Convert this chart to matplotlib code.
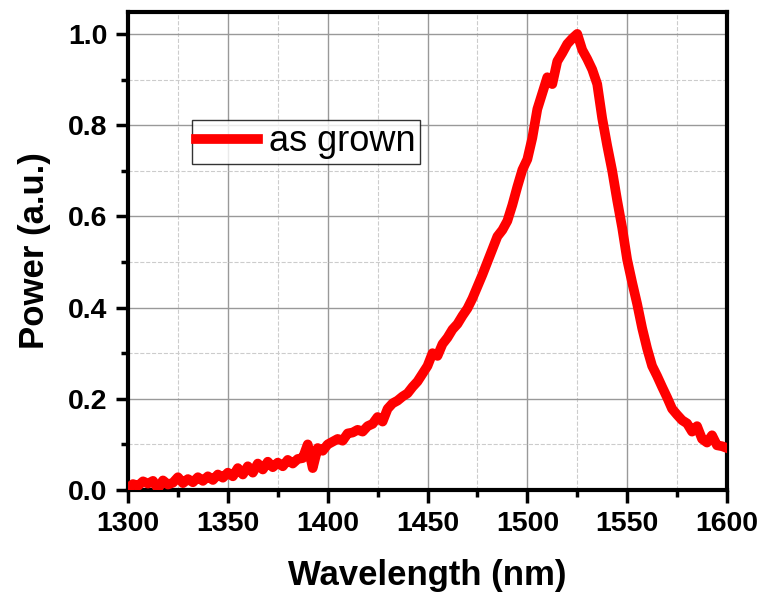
import matplotlib
matplotlib.use("Agg")
import matplotlib.pyplot as plt
import numpy as np
from matplotlib.ticker import MultipleLocator, FormatStrFormatter

# spectrum, 2.5 nm step (1300 ... 1600)
wavelength = np.arange(1300, 1600.1, 2.5)
power = [
    0.004, 0.013, 0.009, 0.019, 0.014, 0.020, 0.003, 0.021, 0.012, 0.016,
    0.028, 0.015, 0.024, 0.017, 0.028, 0.020, 0.030, 0.022, 0.034, 0.027,
    0.038, 0.030, 0.048, 0.034, 0.052, 0.038, 0.058, 0.045, 0.062, 0.050,
    0.060, 0.052, 0.066, 0.058, 0.068, 0.070, 0.100, 0.048, 0.092, 0.086,
    0.100, 0.106, 0.112, 0.108, 0.124, 0.126, 0.132, 0.128, 0.140, 0.145,
    0.160, 0.150, 0.178, 0.190, 0.196, 0.205, 0.212, 0.226, 0.238, 0.255,
    0.272, 0.300, 0.294, 0.320, 0.334, 0.352, 0.364, 0.382, 0.398, 0.420,
    0.446, 0.472, 0.500, 0.528, 0.556, 0.570, 0.590, 0.625, 0.665, 0.702,
    0.725, 0.772, 0.835, 0.870, 0.905, 0.890, 0.940, 0.958, 0.978, 0.990,
    1.000, 0.965, 0.945, 0.922, 0.890, 0.815, 0.755, 0.700, 0.635, 0.575,
    0.505, 0.455, 0.408, 0.355, 0.310, 0.272, 0.250, 0.226, 0.203, 0.178,
    0.165, 0.153, 0.146, 0.128, 0.140, 0.112, 0.104, 0.120, 0.098, 0.096,
    0.092,
]

plt.rcParams['font.family'] = ['Liberation Sans', 'DejaVu Sans']

fig = plt.figure(figsize=(7.63, 5.92), dpi=100)
ax = fig.add_axes([0.1678, 0.1723, 0.785, 0.8074])

ax.plot(wavelength, power, color='#ff0000', lw=7, label='as grown', zorder=3)

ax.set_xlim(1300, 1600)
ax.set_ylim(0, 1.048)
ax.xaxis.set_major_locator(MultipleLocator(50))
ax.xaxis.set_minor_locator(MultipleLocator(25))
ax.yaxis.set_major_locator(MultipleLocator(0.2))
ax.yaxis.set_minor_locator(MultipleLocator(0.1))
ax.yaxis.set_major_formatter(FormatStrFormatter('%.1f'))

ax.grid(which='major', color='#999999', lw=1.0, ls='-')
ax.grid(which='minor', color='#cccccc', lw=0.8, ls='--')
ax.set_axisbelow(True)

for s in ax.spines.values():
    s.set_linewidth(3)
ax.tick_params(which='both', direction='out', top=False, right=False, width=2.5)
ax.tick_params(which='major', length=9, pad=6)
ax.tick_params(which='minor', length=5)
for lab in ax.get_xticklabels() + ax.get_yticklabels():
    lab.set_fontsize(20.5)
    lab.set_fontweight('bold')

ax.set_xlabel('Wavelength (nm)', fontsize=25, fontweight='bold', labelpad=16)
ax.set_ylabel('Power (a.u.)', fontsize=25, fontweight='bold', labelpad=12)

leg = ax.legend(loc='upper left', bbox_to_anchor=(0.107, 0.774), fontsize=26,
                frameon=True, fancybox=False, edgecolor='black', handlelength=1.7,
                handletextpad=0.3, borderpad=0.12, borderaxespad=0)
leg.get_frame().set_linewidth(1.0)
leg.get_lines()[0].set_linewidth(7)

fig.savefig('out.png', dpi=100)
